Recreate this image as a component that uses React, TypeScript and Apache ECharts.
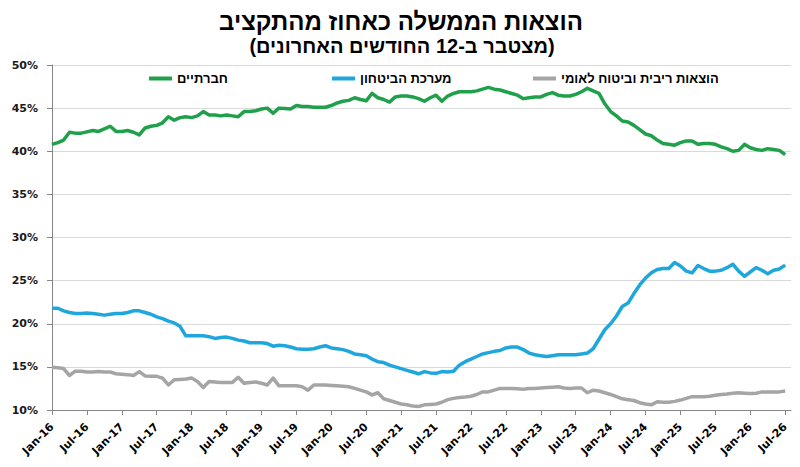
import React, { useEffect, useRef } from "react";
import * as echarts from "echarts";

const TITLE = "הוצאות הממשלה כאחוז מהתקציב";
const SUBTITLE = "(מצטבר ב-12 החודשים האחרונים)";

const MONTHS = ["Jan", "Feb", "Mar", "Apr", "May", "Jun", "Jul", "Aug", "Sep", "Oct", "Nov", "Dec"];
const YEARS = ["16", "17", "18", "19", "20", "21", "22", "23", "24", "25", "26"];
// Jan-16 .. Aug-26
const CATEGORIES: string[] = [];
YEARS.forEach((y) => MONTHS.forEach((m) => CATEGORIES.push(`${m}-${y}`)));
CATEGORIES.splice(128);

const Y_TICKS = [10, 15, 20, 25, 30, 35, 40, 45, 50];

const SERIES_NAMES = ["חברתיים", "מערכת הביטחון", "הוצאות ריבית וביטוח לאומי"];
const SERIES_COLORS = ["#20A04B", "#1FA7DD", "#A5A5A5"];

const SOCIAL = [
  40.8, 41.0, 41.3, 42.2, 42.1, 42.1, 42.25, 42.4, 42.3, 42.6, 42.9, 42.3,
  42.3, 42.4, 42.2, 41.9, 42.7, 42.9, 43.0, 43.3, 44.0, 43.6, 43.9, 44.0,
  43.9, 44.1, 44.6, 44.2, 44.2, 44.1, 44.2, 44.1, 44.0, 44.6, 44.6, 44.7,
  44.9, 45.0, 44.4, 45.0, 44.95, 44.9, 45.3, 45.2, 45.2, 45.1, 45.1, 45.1,
  45.3, 45.6, 45.8, 45.9, 46.2, 46.0, 45.85, 46.7, 46.2, 46.0, 45.7, 46.3,
  46.4, 46.4, 46.3, 46.1, 45.8, 46.2, 46.5, 45.8, 46.4, 46.7, 46.9, 46.9,
  46.9, 47.0, 47.2, 47.4, 47.2, 47.1, 46.9, 46.7, 46.5, 46.1, 46.2, 46.3,
  46.3, 46.6, 46.8, 46.5, 46.4, 46.4, 46.6, 46.9, 47.3, 47.0, 46.7, 45.5,
  44.6, 44.1, 43.5, 43.4, 43.0, 42.5, 42.0, 41.8, 41.3, 40.9, 40.8, 40.7,
  41.0, 41.2, 41.2, 40.8, 40.9, 40.9, 40.8, 40.5, 40.3, 40.0, 40.1, 40.8,
  40.4, 40.2, 40.1, 40.3, 40.2, 40.1, 39.6,
];

const DEFENSE = [
  21.8, 21.8, 21.5, 21.3, 21.2, 21.2, 21.25, 21.2, 21.1, 21.0, 21.1, 21.2,
  21.2, 21.3, 21.5, 21.5, 21.3, 21.1, 20.8, 20.6, 20.3, 20.1, 19.7, 18.6,
  18.6, 18.6, 18.6, 18.5, 18.3, 18.4, 18.45, 18.3, 18.1, 18.0, 17.8, 17.8,
  17.8, 17.7, 17.4, 17.5, 17.45, 17.3, 17.1, 17.05, 17.05, 17.1, 17.3, 17.45,
  17.2, 17.1, 17.0, 16.8, 16.5, 16.4, 16.3, 15.9, 15.6, 15.5, 15.2, 15.0,
  14.8, 14.6, 14.4, 14.2, 14.45, 14.3, 14.25, 14.45, 14.4, 14.5, 15.2, 15.6,
  15.9, 16.2, 16.5, 16.65, 16.8, 16.9, 17.2, 17.3, 17.3, 17.0, 16.6, 16.4,
  16.3, 16.2, 16.3, 16.4, 16.4, 16.4, 16.4, 16.5, 16.6, 17.1, 18.2, 19.3,
  20.0, 20.9, 22.0, 22.4, 23.5, 24.5, 25.3, 25.9, 26.3, 26.4, 26.4, 27.1,
  26.7, 26.1, 25.9, 26.75, 26.4, 26.1, 26.1, 26.2, 26.5, 26.9, 26.1, 25.5,
  26.0, 26.5, 26.2, 25.8, 26.2, 26.35, 26.8,
];

const INTEREST = [
  14.95, 14.9, 14.8, 14.0, 14.5, 14.5, 14.4, 14.4, 14.45, 14.4, 14.4, 14.2,
  14.15, 14.1, 14.0, 14.45, 13.95, 13.9, 13.9, 13.7, 12.9, 13.5, 13.55, 13.6,
  13.7, 13.3, 12.6, 13.3, 13.25, 13.2, 13.2, 13.2, 13.8, 13.1, 13.2, 13.25,
  13.1, 12.9, 13.7, 12.8, 12.8, 12.8, 12.8, 12.7, 12.3, 12.9, 12.9, 12.9,
  12.85, 12.8, 12.75, 12.7, 12.5, 12.3, 12.1, 11.75, 12.0, 11.3, 11.1, 10.9,
  10.7, 10.6, 10.45, 10.4, 10.6, 10.65, 10.7, 10.9, 11.2, 11.35, 11.45, 11.5,
  11.6, 11.8, 12.1, 12.1, 12.3, 12.5, 12.5, 12.5, 12.45, 12.4, 12.5, 12.5,
  12.55, 12.6, 12.65, 12.7, 12.55, 12.5, 12.55, 12.55, 12.0, 12.3, 12.2, 12.0,
  11.8, 11.55, 11.3, 11.2, 11.1, 10.85, 10.7, 10.6, 10.95, 10.9, 10.9, 11.0,
  11.15, 11.35, 11.55, 11.55, 11.55, 11.6, 11.7, 11.8, 11.85, 11.95, 12.0, 11.95,
  11.9, 11.95, 12.1, 12.1, 12.1, 12.1, 12.2,
];

const SERIES_DATA = [SOCIAL, DEFENSE, INTEREST];
const LEGEND_LEFT = [144, 327, 528];

const HEB_FONT = "'Liberation Sans', Arial, 'DejaVu Sans', sans-serif";
const AXIS_FONT = "'DejaVu Sans', Verdana, sans-serif";

export default function App() {
  const ref = useRef<HTMLDivElement>(null);

  useEffect(() => {
    document.body.style.margin = "0";
    if (!ref.current) return;
    const chart = echarts.init(ref.current, undefined, { renderer: "svg" });
    const every6 = (i: number) => i % 6 === 0;
    chart.setOption({
      animation: false,
      backgroundColor: "#ffffff",
      graphic: [
        {
          type: "text",
          x: 401,
          y: 21,
          style: {
            text: TITLE,
            textAlign: "center",
            textVerticalAlign: "middle",
            fontFamily: HEB_FONT,
            fontWeight: "bold",
            fontSize: 24,
            fill: "#000",
          },
        },
        {
          type: "text",
          x: 402,
          y: 46,
          style: {
            text: SUBTITLE,
            textAlign: "center",
            textVerticalAlign: "middle",
            fontFamily: HEB_FONT,
            fontWeight: "bold",
            fontSize: 20,
            fill: "#000",
          },
        },
      ],
      legend: SERIES_NAMES.map((n, i) => ({
        data: [n],
        left: LEGEND_LEFT[i],
        top: 67,
        icon: "rect",
        itemWidth: 23,
        itemHeight: 4,
        selectedMode: false,
        textStyle: {
          fontFamily: HEB_FONT,
          fontWeight: "bold",
          fontSize: 13,
          color: "#000",
        },
      })),
      grid: { left: 52, right: 9, top: 65, bottom: 57, containLabel: false },
      xAxis: {
        type: "category",
        data: CATEGORIES,
        boundaryGap: false,
        axisLine: { lineStyle: { color: "#868686", width: 1 } },
        axisTick: { interval: every6, length: 5, lineStyle: { color: "#868686" } },
        axisLabel: {
          interval: every6,
          rotate: 45,
          margin: 15,
          fontFamily: AXIS_FONT,
          fontWeight: "bold",
          fontSize: 11,
          color: "#000",
        },
        splitLine: { show: false },
      },
      yAxis: {
        type: "value",
        min: Y_TICKS[0],
        max: Y_TICKS[Y_TICKS.length - 1],
        interval: Y_TICKS[1] - Y_TICKS[0],
        axisLine: { show: true, lineStyle: { color: "#868686", width: 1 } },
        axisTick: { show: true, length: 5, lineStyle: { color: "#868686" } },
        axisLabel: {
          margin: 14,
          formatter: (v: number) => `${v}%`,
          fontFamily: AXIS_FONT,
          fontWeight: "bold",
          fontSize: 11,
          color: "#1a1a1a",
        },
        splitLine: { lineStyle: { color: "#d9d9d9", width: 1 } },
      },
      series: SERIES_NAMES.map((n, i) => ({
        name: n,
        type: "line",
        data: SERIES_DATA[i],
        showSymbol: false,
        symbol: "none",
        color: SERIES_COLORS[i],
        lineStyle: { width: 3.5, color: SERIES_COLORS[i], join: "round" },
      })),
    });
    return () => chart.dispose();
  }, []);

  return <div ref={ref} style={{ width: 800, height: 467 }} />;
}
